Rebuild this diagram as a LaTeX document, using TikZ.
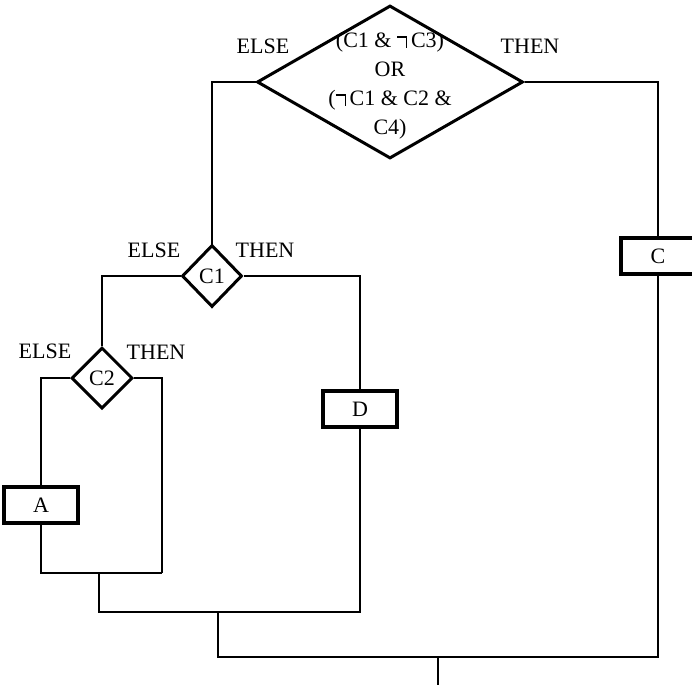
\documentclass[tikz,border=0pt]{standalone}
\usepackage{fontspec}
\setmainfont{Liberation Serif}
\usetikzlibrary{shapes.geometric}
\newcommand\notsym{\mbox{\rule[10pt]{9pt}{1.3pt}\rule{1.3pt}{11.3pt}}\,}
\tikzset{
  lbl/.style={font=\fontsize{22}{29}\selectfont, inner sep=0pt},
  dec/.style={diamond, draw, line width=3pt, inner sep=0pt, line join=miter},
  stepbox/.style={rectangle, draw, line width=3.5pt, minimum width=74pt, minimum height=36pt, inner sep=0pt, fill=white, font=\fontsize{22}{29}\selectfont},
  wire/.style={line width=2pt, line join=miter}
}
\begin{document}
\begin{tikzpicture}[x=1pt,y=-1pt]
\useasboundingbox (0,0) rectangle (692,685);
% decisions
\node[dec, minimum width=266pt, minimum height=153pt] (top) at (390,82) {};
\node[lbl, align=center] (toptext) at (390,86) {(C1 \& \notsym C3)\\OR\\(\notsym C1 \& C2 \&\\C4)};
\node[dec, minimum width=60pt, minimum height=62pt, font=\fontsize{22}{29}\selectfont] (c1) at (212,276) {C1};
\node[dec, minimum width=61pt, minimum height=61pt, font=\fontsize{22}{29}\selectfont] (c2) at (102,378) {C2};
% actions
\node[stepbox] (a) at (41,505) {A};
\node[stepbox] (d) at (360,409) {D};
\node[stepbox] (c) at (658,256) {C};
% labels
\node[lbl] (l1) at (263,46) {ELSE};
\node[lbl] (l2) at (530,46) {THEN};
\node[lbl] (l3) at (154,250) {ELSE};
\node[lbl] (l4) at (265,250) {THEN};
\node[lbl] (l5) at (45,351) {ELSE};
\node[lbl] (l6) at (156,352) {THEN};
% junction points
\coordinate (e1) at (162,573);
\coordinate (m1) at (99,573);
\coordinate (m2) at (218,612);
\coordinate (m3) at (438,657);
\coordinate (out) at (438,685);
% connectors
\draw[wire] (top.west) -| (c1.north);
\draw[wire] (top.east) -| (c.north);
\draw[wire] (c1.west) -| (c2.north);
\draw[wire] (c1.east) -| (d.north);
\draw[wire] (c2.west) -| (a.north);
\draw[wire] (c2.east) -| (e1);
\draw[wire] (a.south) |- (e1);
\draw[wire] (m1) |- (m2);
\draw[wire] (d.south) |- (m2);
\draw[wire] (m2) |- (m3);
\draw[wire] (c.south) |- (m3);
\draw[wire] (m3) -- (out);
\end{tikzpicture}
\end{document}
